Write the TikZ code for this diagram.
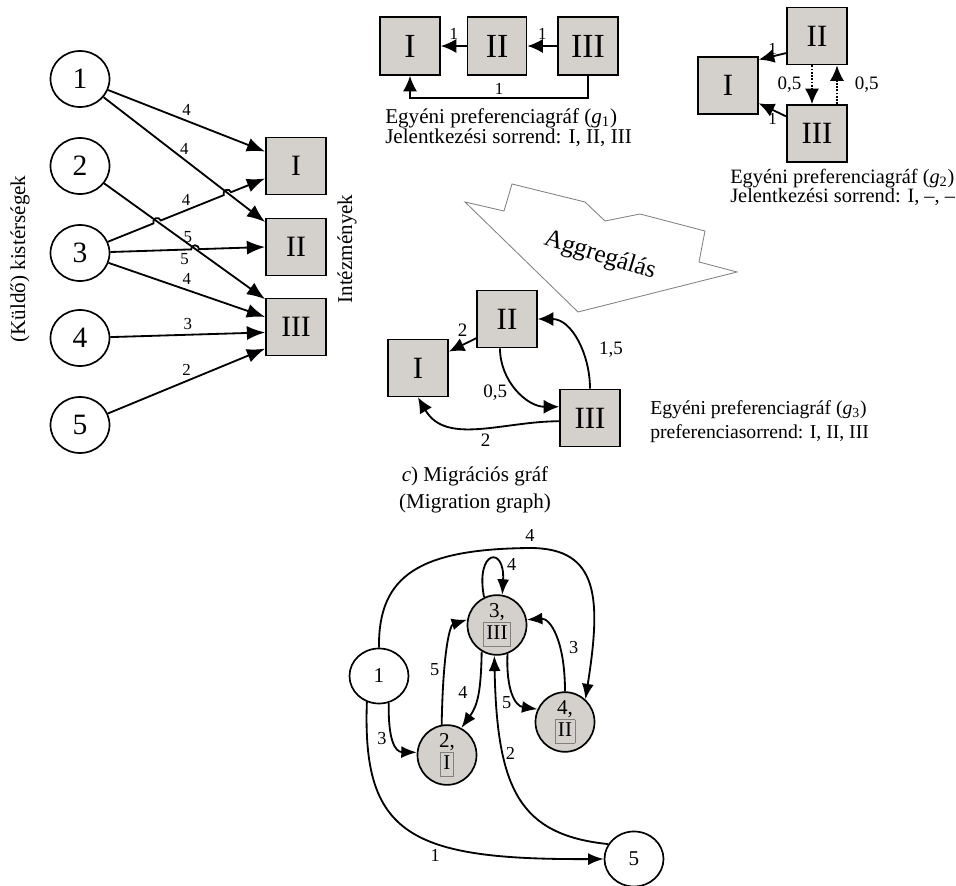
\documentclass[tikz,border=0pt]{standalone}
\usepackage{fontspec}
\setmainfont{Liberation Serif}
\usetikzlibrary{calc,arrows.meta,shapes.geometric}
\definecolor{boxgray}{RGB}{212,209,205}
\newcommand{\fsz}[1]{\fontsize{#1}{#1}\selectfont}
\def\dbox#1{{\setlength{\fboxsep}{2pt}\fcolorbox{gray}{boxgray}{\rule[-2pt]{0pt}{12pt}#1}}}
\tikzset{
  arr/.style={-{Latex[length=13pt,width=10pt]}, line width=1.3pt},
  garr/.style={-{Latex[length=11pt,width=10pt]}, line width=1.3pt},
  marr/.style={-{Latex[length=11pt,width=8.5pt]}, line width=1.3pt},
  src/.style={ellipse, draw, line width=1.2pt, minimum width=1.475cm, minimum height=1.4cm, inner sep=0pt, font=\fsz{21}},
  inst/.style={draw, line width=1.2pt, fill=boxgray, inner sep=0pt, minimum width=1.5cm, minimum height=1.425cm, font=\fsz{21}},
  gbox/.style={inst, minimum width=1.5cm, minimum height=1.45cm, font=\fsz{24}},
  lbl/.style={font=\fsz{12}, inner sep=1pt},
  lblb/.style={font=\fsz{13.5}, inner sep=1pt},
  captxt/.style={font=\fontsize{15}{14.2}\selectfont, align=left, anchor=west, inner sep=0pt},
  mnode/.style={ellipse, draw, line width=1.2pt, minimum width=1.475cm, minimum height=1.375cm, inner sep=0pt, align=center, font=\fontsize{15}{14}\selectfont},
  mlbl/.style={font=\fsz{13}, inner sep=1pt}
}
\begin{document}
\begin{tikzpicture}[x=0.025cm, y=0.025cm]
\useasboundingbox (0,0) rectangle (956,-886);
%%%%% LEFT GRAPH %%%%%
\node[src] (c1) at (80,-79) {1};
\node[src] (c2) at (80,-166) {2};
\node[src] (c3) at (80,-253) {3};
\node[src] (c4) at (80,-338) {4};
\node[src] (c5) at (80,-425) {5};
\node[inst] (inI) at (296,-166) {I};
\node[inst] (inII) at (296,-247) {II};
\node[inst] (inIII) at (296,-327) {III};
\node[rotate=90, font=\fsz{15}] (sendlbl) at (20,-259) {(Küldő) kistérségek};
\node[rotate=90, font=\fsz{15}] (instlbl) at (347,-249) {Intézmények};

\draw[arr] (c1) -- node[lbl, pos=0.5, above=2pt] {4} (inI.155);
\draw[arr] (c1) -- node[lbl, pos=0.5, above=2pt] {4} (inII.141);
\draw[arr] (c2) -- node[lbl, pos=0.52, above=-1pt] {5} (inIII.138);
\draw[arr] (c3) -- ($(c3.center)!0.3965!(inI.202)$) arc[start angle=201.93, end angle=21.93, radius=4]
  -- node[lbl, pos=0.4, above=2pt] {4} ($(c3.center)!0.776!(inI.202)$) arc[start angle=201.93, end angle=21.93, radius=4] -- (inI.202);
\draw[arr] (c3) -- node[lbl, pos=0.92, below=1pt] {5} ($(c3.center)!0.600!(inII.180)$) arc[start angle=181.85, end angle=1.85, radius=4] -- (inII.180);
\draw[arr] (c3) -- node[lbl, pos=0.5, above=2pt] {4} (inIII.162);
\draw[arr] (c4) -- node[lbl, pos=0.5, above=2pt] {3} (inIII.190);
\draw[arr] (c5) -- node[lbl, pos=0.5, above=2pt] {2} (inIII.215);

%%%%% G1 %%%%%
\node[gbox] (aI) at (410,-46) {I};
\node[gbox, minimum width=1.475cm] (aII) at (497,-46) {II};
\node[gbox] (aIII) at (588,-46) {III};
\draw[garr] (aII) -- node[lbl, pos=0.5, above=3pt] {1} (aI);
\draw[garr] (aIII) -- node[lbl, pos=0.5, above=3pt] {1} (aII);
\draw[garr] (aIII.south) -- ++(0,-22) -| node[lbl, pos=0.25, above=1pt] {1} (aI.south);
\node[captxt] (capa) at (385,-128) {Egyéni preferenciagráf (\textit{g}\textsubscript{1})\\Jelentkezési sorrend: I, II, III};

%%%%% G2 %%%%%
\node[gbox, minimum height=1.425cm, font=\fsz{22}] (bII) at (817,-36) {II};
\node[gbox, minimum height=1.425cm, font=\fsz{22}] (bI) at (728,-85.5) {I};
\node[gbox, minimum height=1.425cm, font=\fsz{22}] (bIII) at (817,-133.5) {III};
\draw[garr] (bII.209) -- node[lbl, pos=0.5, above=0pt] {1} (bI.40);
\draw[garr] (bIII.151) -- node[lbl, pos=0.5, below=1pt] {1} (bI.330);
\draw[garr, densely dotted] ($(bII.south)+(-5,0)$) -- node[lblb, left=6pt] {0,5} ($(bIII.north)+(-5,0)$);
\draw[garr, densely dotted] ($(bIII.north)+(20,0)$) -- node[lblb, right=11pt] {0,5} ($(bII.south)+(20,0)$);
\node[captxt, font=\fontsize{14.5}{13.6}\selectfont] (capb) at (730,-187) {Egyéni preferenciagráf (\textit{g}\textsubscript{2})\\Jelentkezési sorrend: I, --, --};

%%%%% AGGREGATION %%%%%
\draw[gray, line width=0.6pt] (465,-202) -- (504,-211) -- (512,-184) -- (585,-202) -- (605,-221) -- (640,-214)
  -- (705,-231) -- (699,-262) -- (737,-272) -- (578,-312) -- cycle;
\node[rotate=-17, font=\fsz{18}] (agg) at (600,-256) {Aggregálás};

%%%%% G3 %%%%%
\node[inst, minimum height=1.425cm, font=\fsz{22}] (cII) at (507,-319) {II};
\node[inst, minimum height=1.425cm, font=\fsz{22}] (cI) at (418,-368) {I};
\node[inst, minimum height=1.425cm, font=\fsz{22}] (cIII) at (590,-418) {III};
\draw[garr] (cII.212) -- node[lblb, pos=0.5, above=4pt] {2} (cI.28);
\draw[garr] ($(cII.south)+(-7,0)$) to[out=-90, in=180] node[lblb, pos=0.55, left=8pt] {0,5} (cIII.160);
\draw[garr] (cIII.north) to[out=90, in=0] node[lblb, pos=0.4, right=11pt] {1,5} (cII.east);
\draw[garr] (cIII.186) to[out=180, in=-60] node[lblb, pos=0.45, below=3pt] {2} (cI.south);
\node[captxt, font=\fontsize{14}{17.5}\selectfont] (capc) at (650,-421.5) {Egyéni preferenciagráf (\textit{g}\textsubscript{3})\\preferenciasorrend: I, II, III};

%%%%% MIGRATION GRAPH %%%%%
\node[align=center, font=\fontsize{15}{19}\selectfont] (title) at (475,-489.5) {\textit{c}) Migrációs gráf\\(Migration graph)};
\node[mnode] (m1) at (379,-676) {1};
\node[mnode, fill=boxgray] (m3) at (497,-625) {3,\\\dbox{III}};
\node[mnode, fill=boxgray] (m4) at (565,-722) {4,\\\dbox{II}};
\node[mnode, fill=boxgray] (m2) at (447,-755) {2,\\\dbox{I}};
\node[mnode] (m5) at (634,-859) {5};

\draw[marr] (m1.north) .. controls (378,-575) and (420,-549) .. (530,-548) node[mlbl, above=3pt] {4}
  .. controls (600,-548) and (601,-600) .. (m4.48);
\draw[marr] (m3.115) .. controls (475,-550) and (505,-545) .. node[mlbl, pos=0.7, right=5pt] {4} (m3.80);
\draw[marr] (m2.100) .. controls (443,-650) and (450,-625) .. node[mlbl, pos=0.3, left=2pt] {5} (m3.170);
\draw[marr] (m3.240) .. controls (481,-690) and (478,-705) .. node[mlbl, pos=0.45, left=6pt] {4} (m2.62);
\draw[marr] (m5.150) .. controls (520,-835) and (497,-790) .. node[mlbl, pos=0.7, right] {2} (m3.265);
\draw[marr] (m3.290) .. controls (506,-690) and (515,-706) .. node[mlbl, pos=0.5, below left=0pt] {5} (m4.155);
\draw[marr] (m4.north) .. controls (565,-640) and (550,-618) .. node[mlbl, pos=0.35, right=5pt] {3} (m3.10);
\draw[marr] (m1.290) .. controls (388,-740) and (395,-752) .. node[mlbl, pos=0.45, left=3pt] {3} (m2.175);
\draw[marr] (m1.245) .. controls (362,-835) and (410,-860) .. node[mlbl, pos=0.6, below=3pt] {1} (m5.west);
\end{tikzpicture}
\end{document}
